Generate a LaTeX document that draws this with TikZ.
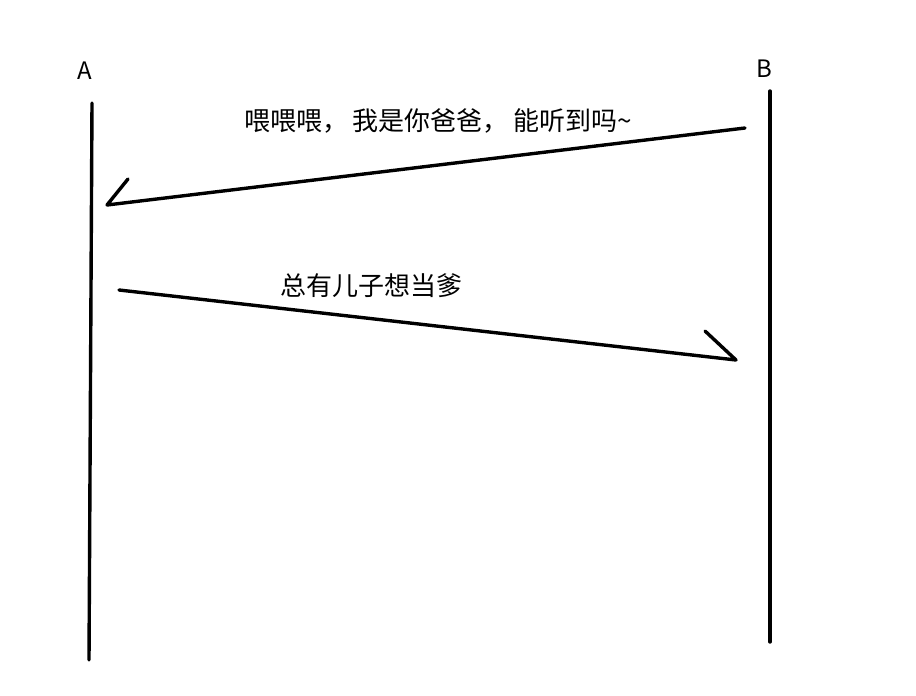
\documentclass[tikz,border=0pt]{standalone}
\usepackage{fontspec}
\setmainfont{Noto Sans CJK SC}
\usetikzlibrary{calc}

\begin{document}
\begin{tikzpicture}[line width=3.4pt, line cap=round, line join=round, x=1pt, y=-1pt,
  lbl/.style={inner sep=0pt, font=\fontsize{24}{28}\selectfont},
  msg/.style={inner sep=0pt, font=\fontsize{26}{30}\selectfont}]
  \useasboundingbox (0,0) rectangle (916,696);
  % lifelines
  \node[lbl] (A) at (85,71) {A};
  \node[lbl] (B) at (764,69) {B};
  \coordinate (A1) at (92,103);
  \coordinate (A2) at (89,660);
  \coordinate (B1) at (770,91);
  \coordinate (B2) at (770,642);
  \draw (A1) -- (A2);
  \draw (B1) -- (B2);
  % first message B -> A
  \coordinate (m1s) at (745,128);
  \coordinate (m1e) at (107,205);
  \coordinate (m1h) at (128,179);
  \draw (m1s) -- (m1e) -- (m1h);
  \node[msg] (t1) at (438,121) {喂喂喂，\,我是你爸爸，\,能听到吗\textasciitilde};
  % second message A -> B
  \coordinate (m2s) at (119,290);
  \coordinate (m2e) at (736,360);
  \coordinate (m2h) at (705,331);
  \draw (m2s) -- (m2e) -- (m2h);
  \node[msg] (t2) at (371,286) {总有儿子想当爹};
\end{tikzpicture}
\end{document}
